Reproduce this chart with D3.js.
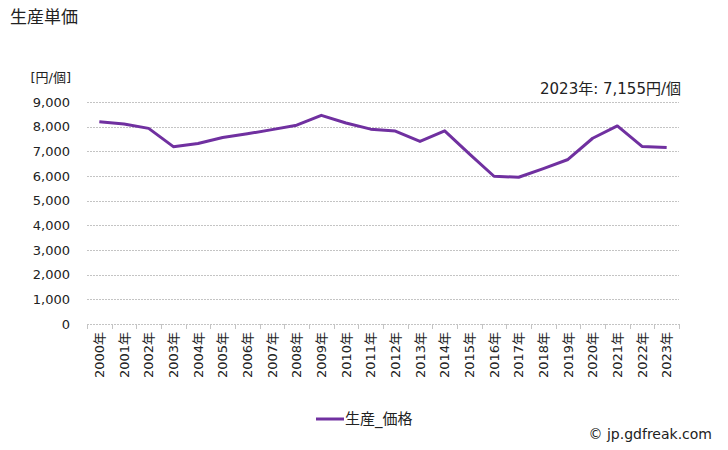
<!DOCTYPE html>
<html>
<head>
<meta charset="utf-8">
<script src="https://cdn.jsdelivr.net/npm/d3@7.9.0/dist/d3.min.js"></script>
<style>
  body { margin: 0; background: #fff; }
  text { font-family: "DejaVu Sans", "Noto Sans CJK JP", sans-serif; fill: #222; }
</style>
</head>
<body>
<div id="chart"></div>
<script>
const years = ['2000年', '2001年', '2002年', '2003年', '2004年', '2005年', '2006年', '2007年',
  '2008年', '2009年', '2010年', '2011年', '2012年', '2013年', '2014年', '2015年', '2016年',
  '2017年', '2018年', '2019年', '2020年', '2021年', '2022年', '2023年'];
const prices = [8200, 8110, 7930, 7190, 7320, 7560, 7710, 7880, 8060, 8460, 8150, 7900,
  7820, 7400, 7830, 6900, 5990, 5950, 6300, 6670, 7530, 8030, 7200, 7155];
const yTicks = [0, 1000, 2000, 3000, 4000, 5000, 6000, 7000, 8000, 9000];

const width = 728, height = 450;
const plot = { left: 87, right: 679, top: 102, bottom: 324 };

const svg = d3.select('#chart').append('svg')
  .attr('width', width).attr('height', height);

const x = d3.scaleBand().domain(years).range([plot.left, plot.right]);
const y = d3.scaleLinear().domain([0, 9000]).range([plot.bottom, plot.top]);

// title
svg.append('text').attr('x', 10).attr('y', 23).style('font-size', '17px').text('生産単価');
svg.append('text').attr('x', 71).attr('y', 82).attr('text-anchor', 'end')
  .style('font-size', '13px').text('[円/個]');
svg.append('text').attr('x', 681).attr('y', 94).attr('text-anchor', 'end')
  .style('font-size', '15px').text('2023年: 7,155円/個');

// gridlines
svg.append('g').selectAll('line').data(yTicks).join('line')
  .attr('x1', plot.left).attr('x2', plot.right)
  .attr('y1', d => Math.round(y(d)) + 0.5).attr('y2', d => Math.round(y(d)) + 0.5)
  .attr('stroke', '#c4c4c4').attr('stroke-dasharray', '2,1');

// y labels
svg.append('g').selectAll('text').data(yTicks).join('text')
  .attr('x', 70).attr('y', d => y(d) + 4.5)
  .attr('text-anchor', 'end').style('font-size', '13px')
  .text(d => d3.format(',')(d));

// x ticks
const tickX = years.map(d => x(d)).concat([plot.right]);
svg.append('g').selectAll('line').data(tickX).join('line')
  .attr('x1', d => Math.round(d) + 0.5).attr('x2', d => Math.round(d) + 0.5)
  .attr('y1', plot.bottom).attr('y2', plot.bottom + 5)
  .attr('stroke', '#c4c4c4');

svg.append('g').selectAll('text').data(years).join('text')
  .attr('transform', d => `translate(${x(d) + x.bandwidth() / 2 + 4.5},${plot.bottom + 8}) rotate(-90)`)
  .attr('text-anchor', 'end').style('font-size', '13px')
  .text(d => d);

// line
const line = d3.line()
  .x((d, i) => x(years[i]) + x.bandwidth() / 2)
  .y(d => y(d));
svg.append('path').datum(prices)
  .attr('d', line).attr('fill', 'none')
  .attr('stroke', '#7030a0').attr('stroke-width', 3)
  .attr('stroke-linejoin', 'round');

// legend
svg.append('line').attr('x1', 316).attr('x2', 344).attr('y1', 419).attr('y2', 419)
  .attr('stroke', '#7030a0').attr('stroke-width', 3);
svg.append('text').attr('x', 345).attr('y', 424).style('font-size', '15px').text('生産_価格');

svg.append('text').attr('x', 712).attr('y', 439).attr('text-anchor', 'end')
  .style('font-size', '14px').text('© jp.gdfreak.com');
</script>
</body>
</html>
